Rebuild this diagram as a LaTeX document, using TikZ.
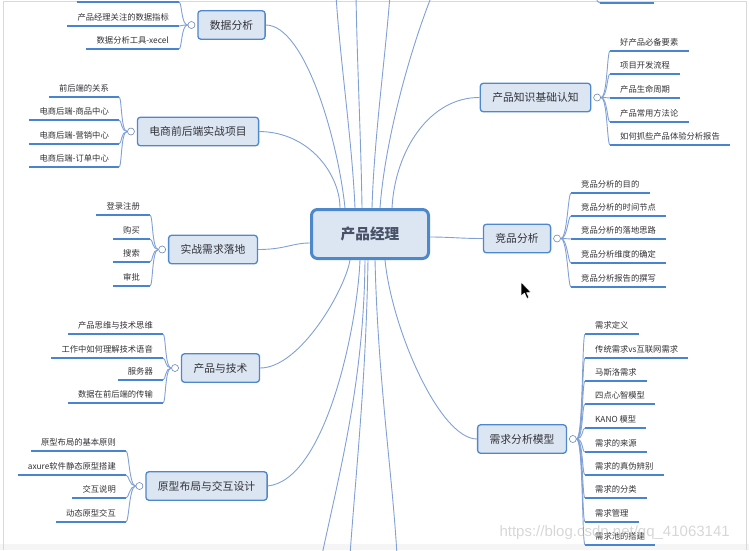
\documentclass[tikz,border=0pt]{standalone}
\usepackage{fontspec}
\newfontfamily\cjk{Noto Sans CJK SC}
\newfontfamily\wmfont{Liberation Sans}
\usetikzlibrary{positioning}

\definecolor{filoblu}{RGB}{128,160,214}
\definecolor{bordoblu}{RGB}{78,136,204}
\definecolor{fondoblu}{RGB}{220,230,243}
\definecolor{sottoblu}{RGB}{72,132,208}
\definecolor{testo}{RGB}{50,50,55}
\definecolor{testoradice}{RGB}{72,82,104}

\tikzset{
  radice/.style={draw=bordoblu, line width=3pt, fill=fondoblu, rounded corners=6pt,
    minimum width=117pt, minimum height=49pt, text=testoradice,
    font=\cjk\bfseries\fontsize{14.7}{16}\selectfont},
  ramo/.style={draw=bordoblu, line width=1.3pt, fill=fondoblu, rounded corners=3pt,
    minimum height=28.5pt, inner xsep=12pt, text=testo,
    font=\cjk\fontsize{10.8}{12}\selectfont},
  nodino/.style={circle, draw=filoblu!85!black, fill=white, line width=.6pt,
    minimum size=7pt, inner sep=0pt},
  sottolinea/.style={draw=sottoblu, line width=2.4pt},
  foglia/.style={inner xsep=10pt, inner ysep=4pt, text height=7pt, text depth=1.5pt,
    text=testo, font=\cjk\fontsize{8.3}{10}\selectfont,
    append after command={\pgfextra{\draw[sottolinea] (\tikzlastnode.south west) -- (\tikzlastnode.south east);}}},
  filo/.style={draw=filoblu, line width=.9pt},
  versoD/.style={to path={.. controls +(6.5,0) and +(-3,0) .. (\tikztotarget)}},
  versoS/.style={to path={.. controls +(-6.5,0) and +(3,0) .. (\tikztotarget)}},
}

\begin{document}
\begin{tikzpicture}[x=1pt, y=-1pt]

    \useasboundingbox (0,0) rectangle (749,550);
    \clip (0,0) rectangle (749,550);

    % Cornice dello schermo
    \fill[gray!8] (0,544) rectangle (749,550);
    \draw[gray!30, line width=.8pt] (3,550) -- (3,1) -- (746,1) -- (746,550);

    % Nodo centrale
    \node[radice] (radice) at (370,234) {产品经理};

    % Rami a sinistra
    \node[ramo] (dati) at (231.5,25) {数据分析};
    \node[ramo] (ecom) at (198,131.5) {电商前后端实战项目};
    \node[ramo] (shizhan) at (213,249.5) {实战需求落地};
    \node[ramo] (tecnica) at (220.5,368) {产品与技术};
    \node[ramo] (prototipo) at (206.5,486) {原型布局与交互设计};

    % Rami a destra
    \node[ramo] (conoscenza) at (535.5,97.5) {产品知识基础认知};
    \node[ramo] (concorrenza) at (517,238.5) {竞品分析};
    \node[ramo] (requisiti) at (522,439) {需求分析模型};

    % Cerchietti
    \node[nodino, left=2pt of dati] (cdati) {};
    \node[nodino, left=2pt of ecom] (cecom) {};
    \node[nodino, left=2pt of shizhan] (cshizhan) {};
    \node[nodino, left=2pt of tecnica] (ctecnica) {};
    \node[nodino, left=2pt of prototipo] (cprototipo) {};
    \node[nodino, right=2pt of conoscenza] (cconoscenza) {};
    \node[nodino, right=2pt of concorrenza] (cconcorrenza) {};
    \node[nodino, right=2pt of requisiti] (crequisiti) {};

    % Foglie: 数据分析
    \node[foglia, anchor=south east, minimum width=102pt] (d0) at (179,2) {};
    \node[foglia, anchor=south east] (d1) at (179,26) {产品经理关注的数据指标};
    \node[foglia, anchor=south east] (d2) at (179,49) {数据分析工具-xecel};

    % Foglie: 电商前后端实战项目
    \node[foglia, anchor=south east] (e1) at (119,97) {前后端的关系};
    \node[foglia, anchor=south east] (e2) at (119,120) {电商后端-商品中心};
    \node[foglia, anchor=south east] (e3) at (119,144) {电商后端-营销中心};
    \node[foglia, anchor=south east] (e4) at (119,167) {电商后端-订单中心};

    % Foglie: 实战需求落地
    \node[foglia, anchor=south east] (s1) at (150,215) {登录注册};
    \node[foglia, anchor=south east] (s2) at (150,239) {购买};
    \node[foglia, anchor=south east] (s3) at (150,262) {搜索};
    \node[foglia, anchor=south east] (s4) at (150,286) {审批};

    % Foglie: 产品与技术
    \node[foglia, anchor=south east] (t1) at (163,334) {产品思维与技术思维};
    \node[foglia, anchor=south east] (t2) at (163,358) {工作中如何理解技术语音};
    \node[foglia, anchor=south east] (t3) at (163,380) {服务器};
    \node[foglia, anchor=south east] (t4) at (163,403) {数据在前后端的传输};

    % Foglie: 原型布局与交互设计
    \node[foglia, anchor=south east] (p1) at (126,451) {原型布局的基本原则};
    \node[foglia, anchor=south east] (p2) at (126,475) {axure软件静态原型搭建};
    \node[foglia, anchor=south east] (p3) at (126,498) {交互说明};
    \node[foglia, anchor=south east] (p4) at (126,522) {动态原型交互};

    % Foglie: 产品知识基础认知
    \node[foglia, anchor=south west] (k1) at (610,51) {好产品必备要素};
    \node[foglia, anchor=south west] (k2) at (610,74) {项目开发流程};
    \node[foglia, anchor=south west] (k3) at (610,98) {产品生命周期};
    \node[foglia, anchor=south west] (k4) at (610,122) {产品常用方法论};
    \node[foglia, anchor=south west] (k5) at (610,145) {如何抓些产品体验分析报告};

    % Foglie: 竞品分析
    \node[foglia, anchor=south west] (j1) at (571,193) {竞品分析的目的};
    \node[foglia, anchor=south west] (j2) at (571,216) {竞品分析的时间节点};
    \node[foglia, anchor=south west] (j3) at (571,239) {竞品分析的落地思路};
    \node[foglia, anchor=south west] (j4) at (571,263) {竞品分析维度的确定};
    \node[foglia, anchor=south west] (j5) at (571,287) {竞品分析报告的撰写};

    % Foglie: 需求分析模型
    \node[foglia, anchor=south west] (x1) at (585,334) {需求定义};
    \node[foglia, anchor=south west] (x2) at (585,358) {传统需求vs互联网需求};
    \node[foglia, anchor=south west] (x3) at (585,381) {马斯洛需求};
    \node[foglia, anchor=south west] (x4) at (585,404) {四点心智模型};
    \node[foglia, anchor=south west] (x5) at (585,428) {KANO 模型};
    \node[foglia, anchor=south west] (x6) at (585,452) {需求的来源};
    \node[foglia, anchor=south west] (x7) at (585,475) {需求的真伪辨别};
    \node[foglia, anchor=south west] (x8) at (585,498) {需求的分类};
    \node[foglia, anchor=south west] (x9) at (585,522) {需求管理};
    \node[foglia, anchor=south west] (x10) at (585,545) {需求池的搭建};

    % Rami fuori schermo
    \coordinate (su1) at (336,-5);
    \coordinate (su2) at (356,-5);
    \coordinate (su3) at (390,-5);
    \coordinate (su4) at (432,-5);
    \coordinate (giu1) at (322,555);
    \coordinate (giu2) at (350,555);
    \coordinate (giu3) at (397,555);
    \coordinate (alto1) at (596,-6);
    \coordinate (alto2) at (600,3);
    \coordinate (alto3) at (654,3);

    % Collegamenti dal nodo centrale
    \draw[filo] (dati.east) .. controls (305,25) and (338,140) .. ([xshift=-25pt]radice.north);
    \draw[filo] (ecom.east) .. controls (310,132) and (340,175) .. ([xshift=-30pt]radice.north);
    \draw[filo] (shizhan.east) .. controls (285,249.5) and (292,243) .. ([yshift=-9pt]radice.west);
    \draw[filo] (tecnica.east) .. controls (300,368) and (345,290) .. ([xshift=-20pt]radice.south);
    \draw[filo] (prototipo.east) .. controls (325,480) and (357,330) .. ([xshift=-10pt]radice.south);
    \draw[filo] (conoscenza.west) .. controls (430,97) and (395,150) .. ([xshift=22pt]radice.north);
    \draw[filo] (concorrenza.west) .. controls (460,238.5) and (450,237) .. ([yshift=-3pt]radice.east);
    \draw[filo] (requisiti.west) .. controls (440,439) and (392,330) .. ([xshift=15pt]radice.south);

    \draw[filo] ([xshift=-15pt]radice.north) .. controls (352,140) and (340,60) .. (su1);
    \draw[filo] ([xshift=-8pt]radice.north) .. controls (361,140) and (357,60) .. (su2);
    \draw[filo] ([xshift=2pt]radice.north) .. controls (374,140) and (385,60) .. (su3);
    \draw[filo] ([xshift=10pt]radice.north) .. controls (385,140) and (410,50) .. (su4);
    \draw[filo] ([xshift=-5pt]radice.south) .. controls (364,380) and (340,470) .. (giu1);
    \draw[filo] ([xshift=-2pt]radice.south) .. controls (366,380) and (356,470) .. (giu2);
    \draw[filo] ([xshift=5pt]radice.south) .. controls (378,380) and (392,470) .. (giu3);

    % Collegamenti alle foglie
    \draw[filo] (cdati.west) to[versoS] (d0.south east);
    \draw[filo] (cdati.west) to[versoS] (d1.south east);
    \draw[filo] (cdati.west) to[versoS] (d2.south east);

    \draw[filo] (cecom.west) to[versoS] (e1.south east);
    \draw[filo] (cecom.west) to[versoS] (e2.south east);
    \draw[filo] (cecom.west) to[versoS] (e3.south east);
    \draw[filo] (cecom.west) to[versoS] (e4.south east);

    \draw[filo] (cshizhan.west) to[versoS] (s1.south east);
    \draw[filo] (cshizhan.west) to[versoS] (s2.south east);
    \draw[filo] (cshizhan.west) to[versoS] (s3.south east);
    \draw[filo] (cshizhan.west) to[versoS] (s4.south east);

    \draw[filo] (ctecnica.west) to[versoS] (t1.south east);
    \draw[filo] (ctecnica.west) to[versoS] (t2.south east);
    \draw[filo] (ctecnica.west) to[versoS] (t3.south east);
    \draw[filo] (ctecnica.west) to[versoS] (t4.south east);

    \draw[filo] (cprototipo.west) to[versoS] (p1.south east);
    \draw[filo] (cprototipo.west) to[versoS] (p2.south east);
    \draw[filo] (cprototipo.west) to[versoS] (p3.south east);
    \draw[filo] (cprototipo.west) to[versoS] (p4.south east);

    \draw[filo] (cconoscenza.east) to[versoD] (k1.south west);
    \draw[filo] (cconoscenza.east) to[versoD] (k2.south west);
    \draw[filo] (cconoscenza.east) to[versoD] (k3.south west);
    \draw[filo] (cconoscenza.east) to[versoD] (k4.south west);
    \draw[filo] (cconoscenza.east) to[versoD] (k5.south west);

    \draw[filo] (cconcorrenza.east) to[versoD] (j1.south west);
    \draw[filo] (cconcorrenza.east) to[versoD] (j2.south west);
    \draw[filo] (cconcorrenza.east) to[versoD] (j3.south west);
    \draw[filo] (cconcorrenza.east) to[versoD] (j4.south west);
    \draw[filo] (cconcorrenza.east) to[versoD] (j5.south west);

    \draw[filo] (crequisiti.east) to[versoD] (x1.south west);
    \draw[filo] (crequisiti.east) to[versoD] (x2.south west);
    \draw[filo] (crequisiti.east) to[versoD] (x3.south west);
    \draw[filo] (crequisiti.east) to[versoD] (x4.south west);
    \draw[filo] (crequisiti.east) to[versoD] (x5.south west);
    \draw[filo] (crequisiti.east) to[versoD] (x6.south west);
    \draw[filo] (crequisiti.east) to[versoD] (x7.south west);
    \draw[filo] (crequisiti.east) to[versoD] (x8.south west);
    \draw[filo] (crequisiti.east) to[versoD] (x9.south west);
    \draw[filo] (crequisiti.east) to[versoD] (x10.south west);

    % Foglia tagliata in alto a destra
    \draw[filo] (alto1) .. controls (597,2) .. (alto2);
    \draw[sottolinea] (alto2) -- (alto3);

    % Puntatore del mouse
    \draw[white, fill=black, line width=.5pt, line join=round]
    (521,282) -- (521,296) -- (524.5,293) -- (527,298.5) -- (529,297.5)
    -- (526.5,292.5) -- (531,292.5) -- cycle;

    % Filigrana
    \node[font=\wmfont\fontsize{15}{17}\selectfont, text=gray!45, opacity=.7, anchor=west]
    (filigrana) at (496,533) {https://blog.csdn.net/qq\_41063141};

\end{tikzpicture}
\end{document}
